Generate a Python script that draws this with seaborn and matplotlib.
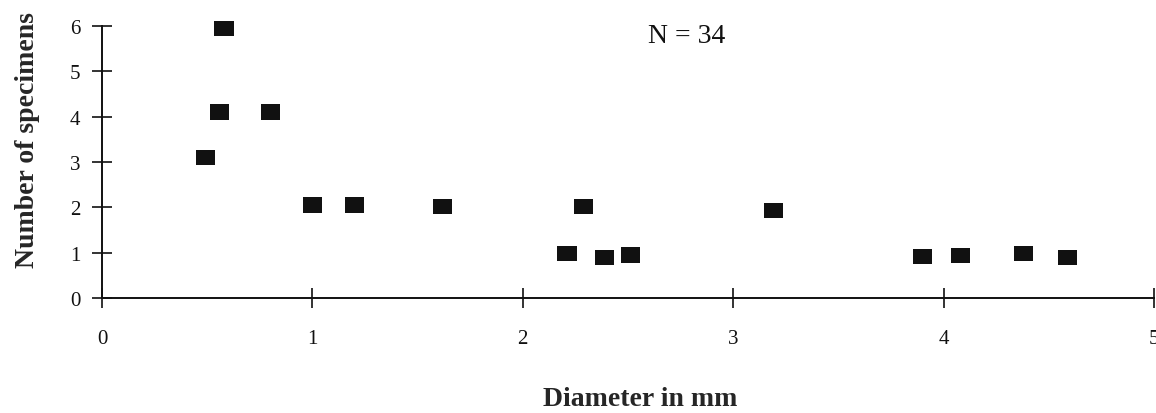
import matplotlib
matplotlib.use("Agg")
import matplotlib.pyplot as plt
from matplotlib.path import Path
import seaborn as sns
import pandas as pd

# values
diameter_mm = [0.49, 0.56, 0.58, 0.80, 1.00, 1.20, 1.62, 2.21, 2.29, 2.39,
               2.51, 3.19, 3.90, 4.08, 4.38, 4.59]
specimens = [3.1, 4.1, 5.95, 4.1, 2.05, 2.05, 2.02, 0.98, 2.02, 0.9,
             0.95, 1.93, 0.92, 0.93, 0.98, 0.9]
x_ticks = [0, 1, 2, 3, 4, 5]
y_ticks = [0, 1, 2, 3, 4, 5, 6]
n_label = "N = 34"

df = pd.DataFrame({"diameter": diameter_mm, "count": specimens})

sns.set_style("ticks")
plt.rcParams["font.family"] = ["Liberation Serif", "DejaVu Serif"]

fig = plt.figure(figsize=(11.56, 4.14), dpi=100)
ax = fig.add_axes([102 / 1156, 1 - 299 / 414, 1052 / 1156, 272 / 414])

# wide filled rectangle, like the printed markers
rect = Path([(-1.25, -1), (1.25, -1), (1.25, 1), (-1.25, 1), (-1.25, -1)],
            [Path.MOVETO, Path.LINETO, Path.LINETO, Path.LINETO, Path.CLOSEPOLY])
sns.scatterplot(data=df, x="diameter", y="count", marker=rect, s=190,
                color="#111111", edgecolor="none", linewidth=0, ax=ax,
                clip_on=False, legend=False)

ax.set_xlim(0, 5)
ax.set_ylim(0, 6)
ax.set_xticks(x_ticks)
ax.set_yticks(y_ticks)
ax.set_xticklabels([str(t) for t in x_ticks])
ax.set_yticklabels([str(t) for t in y_ticks])

sns.despine(ax=ax)
for side in ["left", "bottom"]:
    ax.spines[side].set_linewidth(1.4)
    ax.spines[side].set_color("#111111")

ax.tick_params(axis="both", direction="inout", length=15, width=1.2,
               colors="#111111", labelsize=15)
ax.tick_params(axis="x", pad=15)
ax.tick_params(axis="y", pad=8)

ax.set_xlabel("Diameter in mm", fontsize=20, fontweight="bold")
ax.set_ylabel("Number of specimens", fontsize=20, fontweight="bold")
ax.xaxis.set_label_coords(0.512, -0.322)
ax.yaxis.set_label_coords(-62 / 1052, 0.585)

ax.text(2.78, 5.80, n_label, fontsize=20, ha="center", va="center", color="#111111")

fig.savefig("out.png", dpi=100)
plt.close(fig)
